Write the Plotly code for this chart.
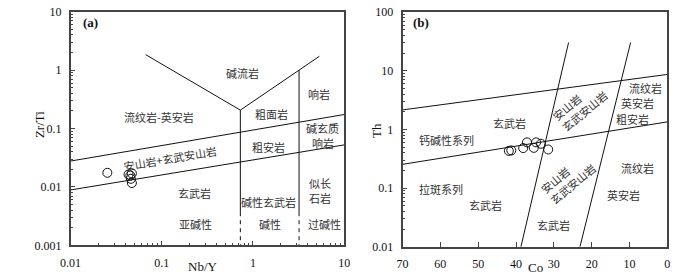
import plotly.graph_objects as go

# ---------------- data: panel (a) Zr/Ti vs Nb/Y ----------------
a_nby = [0.0253, 0.0432, 0.0452, 0.0470, 0.0458, 0.0470]
a_zrti = [0.0175, 0.0164, 0.0157, 0.0171, 0.0138, 0.0117]

# boundary lines (a)
a_upper_x = [0.01, 10]
a_upper_y = [0.0278, 0.174]
a_lower_x = [0.01, 10]
a_lower_y = [0.0089, 0.0525]
a_v_x = [0.0667, 0.727, 5.35]
a_v_y = [1.84, 0.207, 1.73]
a_vert1_x = [0.727, 0.727]
a_vert1_y = [0.207, 0.0037]
a_vert1d_y = [0.0037, 0.001]
a_vert2_x = [3.2, 3.2]
a_vert2_y = [1.0, 0.0037]
a_vert2d_y = [0.0037, 0.001]

# ---------------- data: panel (b) Th vs Co ----------------
b_co = [41.9, 41.25, 38.1, 37.1, 35.3, 34.7, 33.4, 31.5]
b_th = [0.432, 0.440, 0.483, 0.604, 0.487, 0.604, 0.572, 0.457]

b_upper_x = [70, 0]
b_upper_y = [2.16, 8.7]
b_lower_x = [70, 0]
b_lower_y = [0.255, 1.35]
b_steep1_x = [38.7, 26.1]
b_steep1_y = [0.01, 30.5]
b_steep2_x = [23.1, 9.7]
b_steep2_y = [0.01, 30.5]

# tick labels
a_xticks = [0.01, 0.1, 1, 10]
a_xticktext = ["0.01", "0.1", "1", "10"]
a_yticks = [0.001, 0.01, 0.1, 1, 10]
a_yticktext = ["0.001", "0.01", "0.1", "1", "10"]
b_yticks = [0.01, 0.1, 1, 10, 100]
b_yticktext = ["0.01", "0.1", "1", "10", "100"]
b_xticks = [70, 60, 50, 40, 30, 20, 10, 0]

def minor_log(lo, hi):
    out = []
    for k in range(lo, hi):
        for m in range(2, 10):
            out.append(m * 10 ** k)
    return out

LINE = dict(color="#111", width=1)
DASH = dict(color="#111", width=1, dash="4px,4px")

fig = go.Figure()

def seg(x, y, xa, ya, line):
    fig.add_trace(go.Scatter(x=x, y=y, mode="lines", line=line,
                             xaxis=xa, yaxis=ya, showlegend=False, hoverinfo="skip"))

seg(a_upper_x, a_upper_y, "x", "y", LINE)
seg(a_lower_x, a_lower_y, "x", "y", LINE)
seg(a_v_x, a_v_y, "x", "y", LINE)
seg(a_vert1_x, a_vert1_y, "x", "y", LINE)
seg(a_vert1_x, a_vert1d_y, "x", "y", DASH)
seg(a_vert2_x, a_vert2_y, "x", "y", LINE)
seg(a_vert2_x, a_vert2d_y, "x", "y", DASH)

seg(b_upper_x, b_upper_y, "x2", "y2", LINE)
seg(b_lower_x, b_lower_y, "x2", "y2", LINE)
seg(b_steep1_x, b_steep1_y, "x2", "y2", LINE)
seg(b_steep2_x, b_steep2_y, "x2", "y2", LINE)

MK = dict(symbol="circle-open", size=9, color="#111", line=dict(width=1, color="#111"))
fig.add_trace(go.Scatter(x=a_nby, y=a_zrti, mode="markers", marker=MK,
                         xaxis="x", yaxis="y", showlegend=False))
fig.add_trace(go.Scatter(x=b_co, y=b_th, mode="markers", marker=MK,
                         xaxis="x2", yaxis="y2", showlegend=False))

TICKFONT = dict(family="Liberation Serif", size=12, color="#111")
AX = dict(showline=True, mirror=True, linecolor="#444", linewidth=1.5,
          ticks="inside", ticklen=5, tickcolor="#444", tickwidth=1,
          showgrid=False, zeroline=False, tickfont=TICKFONT, ticklabelstandoff=5,
          ticklabeloverflow="allow")

fig.update_layout(
    width=700, height=279,
    margin=dict(l=0, r=0, t=0, b=0),
    paper_bgcolor="white", plot_bgcolor="white",
    xaxis=dict(AX, type="log", range=[-2, 1], domain=[62 / 700, 342 / 700], anchor="y",
               tickmode="array", tickvals=a_xticks, ticktext=a_xticktext,
               minor=dict(ticks="inside", ticklen=3, tickcolor="#444",
                          tickmode="array", tickvals=minor_log(-2, 1), showgrid=False)),
    yaxis=dict(AX, type="log", range=[-3, 1], domain=[1 - 251 / 279, 1 - 5 / 279], anchor="x",
               tickmode="array", tickvals=a_yticks, ticktext=a_yticktext,
               minor=dict(ticks="inside", ticklen=3, tickcolor="#444",
                          tickmode="array", tickvals=minor_log(-3, 1), showgrid=False)),
    xaxis2=dict(AX, range=[70, 0], domain=[401.7 / 700, 672.7 / 700], anchor="y2",
                tickmode="array", tickvals=b_xticks),
    yaxis2=dict(AX, type="log", range=[-2, 2], domain=[1 - 252.5 / 279, 1 - 5.5 / 279], anchor="x2",
                tickmode="array", tickvals=b_yticks, ticktext=b_yticktext,
                minor=dict(ticks="inside", ticklen=3, tickcolor="#444",
                           tickmode="array", tickvals=minor_log(-2, 2), showgrid=False)),
)

CJK = dict(family="Noto Sans CJK SC", size=11, color="#333")

# labels for panel (a): positions in log10 units (log axes)
a_labels = [
    ("碱流岩", -0.114, -0.057, 0, "center"),
    ("响岩", 0.729, -0.410, 0, "center"),
    ("粗面岩", 0.207, -0.756, 0, "center"),
    ("流纹岩-英安岩", -1.030, -0.805, 0, "center"),
    ("碱玄质", 0.764, -0.984, 0, "center"),
    ("响岩", 0.764, -1.244, 0, "center"),
    ("粗安岩", 0.175, -1.309, 0, "center"),
    ("安山岩+玄武安山岩", -0.907, -1.496, -9.7, "center"),
    ("玄武岩", -0.639, -2.106, 0, "center"),
    ("似长", 0.732, -1.927, 0, "center"),
    ("石岩", 0.732, -2.187, 0, "center"),
    ("碱性玄武岩", 0.175, -2.252, 0, "center"),
    ("亚碱性", -0.629, -2.626, 0, "center"),
    ("碱性", 0.186, -2.626, 0, "center"),
    ("过碱性", 0.783, -2.626, 0, "center"),
]
for t, x, y, ang, al in a_labels:
    fig.add_annotation(text=t, x=x, y=y, xref="x", yref="y", showarrow=False,
                       xanchor="center", yanchor="middle",
                       textangle=ang, align=al, font=CJK)

# labels for panel (b): x in Co units, y in log10(Th)
b_labels = [
    ("玄武岩", 41.6, 0.118, 0, "center"),
    ("钙碱性系列", 58.3, -0.178, 0, "center"),
    ("拉斑系列", 59.85, -1.015, 0, "center"),
    ("玄武岩", 48.0, -1.284, 0, "center"),
    ("安山岩<br>玄武安山岩", 23.1, 0.421, -40, "left"),
    ("安山岩<br>玄武安山岩", 26.3, -0.818, -40, "left"),
    ("流纹岩", 5.86, 0.713, 0, "center"),
    ("英安岩", 8.0, 0.453, 0, "center"),
    ("粗安岩", 9.3, 0.173, 0, "center"),
    ("流纹岩", 8.0, -0.648, 0, "center"),
    ("英安岩", 11.46, -1.122, 0, "center"),
    ("玄武岩", 30.0, -1.624, 0, "center"),
]
for t, x, y, ang, al in b_labels:
    fig.add_annotation(text=t, x=x, y=y, xref="x2", yref="y2", showarrow=False,
                       xanchor="center", yanchor="middle",
                       textangle=ang, align=al, font=CJK)

SERIF = dict(family="Liberation Serif", size=13, color="#111")
fig.add_annotation(text="<b>(a)</b>", x=-1.778, y=0.810, xref="x", yref="y",
                   xanchor="center", yanchor="middle", showarrow=False, font=SERIF)
fig.add_annotation(text="<b>(b)</b>", x=65.0, y=1.819, xref="x2", yref="y2",
                   xanchor="center", yanchor="middle", showarrow=False, font=SERIF)

# axis titles
titles = [
    ("Zr/Ti", 30, 124, -90),
    ("Nb/Y", 198, 273, 0),
    ("Th", 375, 130, -90),
    ("Co", 538, 274, 0),
]
for t, px, py, ang in titles:
    fig.add_annotation(text=t, x=px / 700, y=1 - py / 279, xref="paper", yref="paper",
                       xanchor="center", yanchor="middle",
                       showarrow=False, textangle=ang, font=SERIF)

fig.write_html("out.html", config={"displayModeBar": False},
               post_script="document.body.style.margin='0';document.body.style.overflow='hidden';")
